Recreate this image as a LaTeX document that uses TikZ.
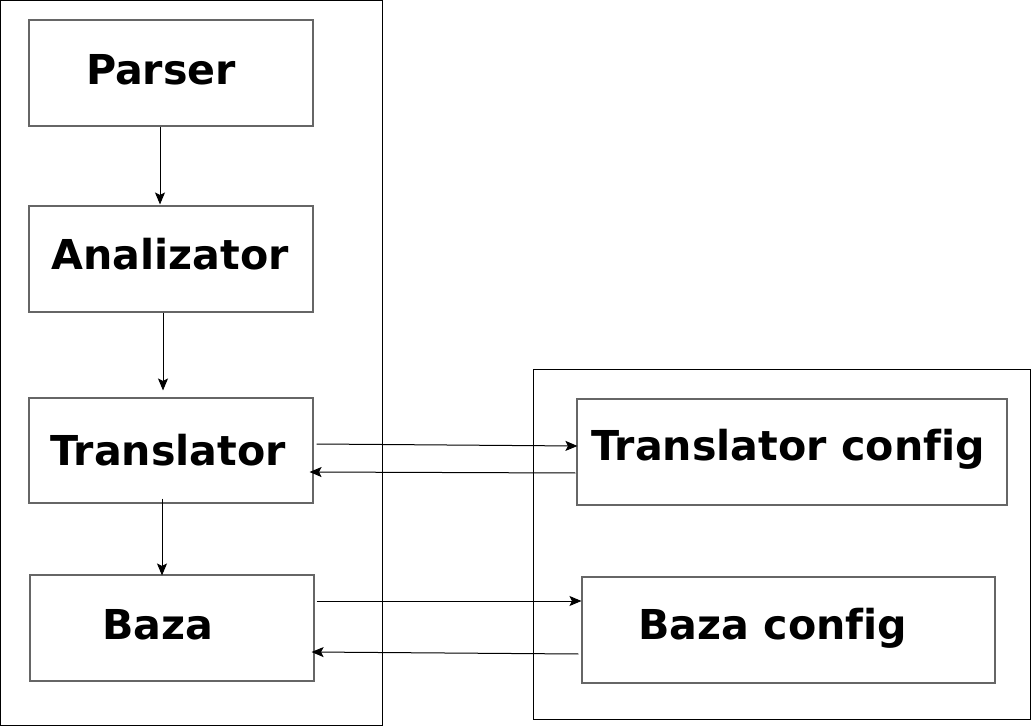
\documentclass[tikz,border=0pt]{standalone}
\usepackage{fontspec}
\setmainfont[Ligatures={NoCommon}]{DejaVu Sans}
\usetikzlibrary{arrows.meta,calc}
\begin{document}
\begin{tikzpicture}[x=1pt,y=-1pt,
  outerbox/.style={draw=black,line width=1pt,inner sep=0pt},
  box/.style={draw=black!60,line width=1.1pt,inner sep=0pt,minimum width=#1,minimum height=106pt},
  lbl/.style={font=\fontsize{41.2}{48}\selectfont\bfseries,inner sep=0pt},
  conn/.style={line width=1pt,-{Stealth[length=12pt,width=10pt,inset=2.5pt]}}]
\useasboundingbox (0,0) rectangle (1031,727);
\fill[white] (0,0) rectangle (1031,727);
% outer frames
\node[outerbox,minimum width=382pt,minimum height=725pt] (left) at (191,363) {};
\node[outerbox,minimum width=497pt,minimum height=350pt] (right) at (781.5,544) {};
% boxes
\node[box=284pt] (parser) at (171,73) {};
\node[box=284pt] (anal) at (171,259) {};
\node[box=284pt,minimum height=105pt] (trans) at (171,450.5) {};
\node[box=284pt] (baza) at (172,628) {};
\node[box=430pt] (tc) at (792,452) {};
\node[box=413pt] (bc) at (788.5,630) {};
% labels
\node[lbl] (parserl) at (161,70) {Parser};
\node[lbl] (anall) at (170,254) {Analizator};
\node[lbl] (transl) at (168,450) {Translator};
\node[lbl] (bazal) at (158,625) {Baza};
\node[lbl] (tcl) at (788,449) {Translator config};
\node[lbl] (bcl) at (773,628) {Baza config};
% connectors
\draw[conn] ($(parser.south)+(-11,0)$) -- ($(anal.north)+(-11,-1)$);
\draw[conn] ($(anal.south)+(-8,0)$) -- ($(trans.north)+(-8,-7)$);
\draw[conn] ($(trans.south)+(-9,-5)$) -- ($(baza.north)+(-10,1)$);
\draw[conn] ($(trans.east)+(3,-6.5)$) -- ($(tc.west)+(1,-6)$);
\draw[conn] ($(tc.west)+(-1,21)$) -- ($(trans.east)+(-4,21.5)$);
\draw[conn] ($(baza.east)+(2,-27)$) -- ($(bc.west)+(0,-29)$);
\draw[conn] ($(bc.west)+(-3,24)$) -- ($(baza.east)+(-3,24)$);
\end{tikzpicture}
\end{document}
